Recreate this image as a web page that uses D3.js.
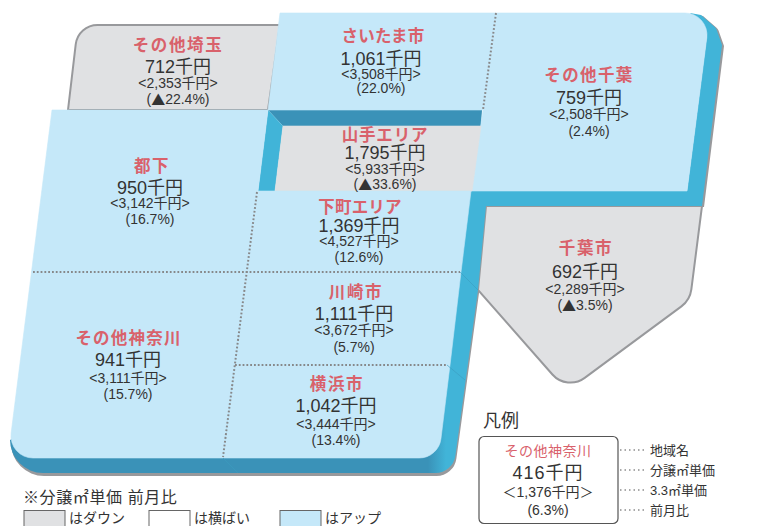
<!DOCTYPE html>
<html>
<head>
<meta charset="utf-8">
<script src="https://cdn.jsdelivr.net/npm/d3@7/dist/d3.min.js"></script>
<style>
  body { margin: 0; background: #fff; }
  svg { display: block; }
  text { font-family: "Liberation Sans", "Noto Sans CJK JP", sans-serif; fill: #333; text-anchor: middle; dominant-baseline: central; }
</style>
</head>
<body>
<script>
// data
var areas   = ["その他埼玉", "さいたま市", "その他千葉", "山手エリア", "都下", "下町エリア", "川崎市", "その他神奈川", "横浜市", "千葉市"];
var prices  = [712, 1061, 759, 1795, 950, 1369, 1111, 941, 1042, 692];
var tsubo   = [2353, 3508, 2508, 5933, 3142, 4527, 3672, 3111, 3444, 2289];
var changes = [-22.4, 22.0, 2.4, -33.6, 16.7, 12.6, 5.7, 15.7, 13.4, -3.5];

var legendNames  = ["はダウン", "は横ばい", "はアップ"];
var legendSample = {name: "その他神奈川", price: 416, tsubo: 1376, change: 6.3};
var legendNotes  = ["地域名", "分譲㎡単価", "3.3㎡単価", "前月比"];

// map layout (hand drawn cartogram, [x, y, cornerRadius])
// tx / ls = title centre and letter spacing, they differ a bit from cell to cell
var cells = {
  "その他埼玉":   {pts: [[280,25],[78,25,22],[68,110],[268,110]], x: 178, tx: 178, ls: 1.6, rows: [45,67,83,99]},
  "さいたま市":   {pts: [[280,13],[497,13],[483,110],[268,110]], x: 381, tx: 383, ls: 0.2, rows: [36,59,74,88]},
  "その他千葉":   {pts: [[497,13],[710,13,22],[687,191],[471,191],[483,110]], x: 589, tx: 589, ls: 1.4, rows: [75,98,114,131]},
  "山手エリア":   {pts: [[283,126],[481,126],[472,191],[275,191]], x: 385, tx: 385, ls: 0.8, rows: [135,153,169,184]},
  "都下":         {pts: [[52,110],[268,110],[258,191],[247,272],[31.5,272]], x: 150, tx: 152, ls: 1.6, rows: [166,188,203,219]},
  "下町エリア":   {pts: [[258,191],[471,191],[461,272],[247,272]], x: 359, tx: 360, ls: 0.2, rows: [207,226,241,257]},
  "川崎市":       {pts: [[247,272],[461,272],[450,365],[235,365]], x: 354, tx: 356, ls: 1.6, rows: [292,314,330,347]},
  "その他神奈川": {pts: [[31.5,272],[247,272],[223,458],[8,458,22]], x: 128, tx: 128.5, ls: 1.2, rows: [338,360,378,394]},
  "横浜市":       {pts: [[235,365],[450,365],[438.6,458,22],[223,458]], x: 336, tx: 337, ls: 1.6, rows: [384,406,424,440]},
  "千葉市":       {pts: [[486,206],[702,206],[690,300,25],[567,391,24],[478,290]], x: 585, tx: 586, ls: 1.6, rows: [248,272,289,305]}
};

var upColor = "#c5e8f9", downColor = "#e0e1e3", edgeColor = "#98999c", sideColor = "#41b4d8", darkSide = "#3a92b8", red = "#d9616b";

var statusColor = d3.scaleThreshold().domain([0]).range([downColor, upColor]);

var yen = d3.format(",");
var pct = d3.format(".1f");
var fmtPrice = function(v){ return yen(v) + "千円"; };
var fmtTsubo = function(v){ return "<" + yen(v) + "千円>"; };

// the triangle has to come from the CJK font, the latin one draws it too small
var addChange = function(sel, v){
  sel.append("tspan").text("(");
  if (v < 0) sel.append("tspan").style("font-family", "'Noto Sans CJK JP'").text("▲");
  sel.append("tspan").text(pct(Math.abs(v)) + "%)");
};

// rounded polygon through d3.path
var outline = function(pts){
  var p = d3.path(), n = pts.length;
  var start = [(pts[n - 1][0] + pts[0][0]) / 2, (pts[n - 1][1] + pts[0][1]) / 2];
  p.moveTo(start[0], start[1]);
  pts.forEach(function(d, i){
    var next = pts[(i + 1) % n];
    if (d[2]) p.arcTo(d[0], d[1], next[0], next[1], d[2]);
    else p.lineTo(d[0], d[1]);
  });
  p.closePath();
  return p.toString();
};

var svg = d3.select("body").append("svg").attr("width", 770).attr("height", 526);

var grad = svg.append("defs").append("linearGradient")
  .attr("id", "sideGrad").attr("gradientUnits", "userSpaceOnUse")
  .attr("x1", 428).attr("x2", 446).attr("y1", 0).attr("y2", 0);
grad.append("stop").attr("offset", 0).attr("stop-color", darkSide);
grad.append("stop").attr("offset", 1).attr("stop-color", sideColor);

// side walls
var frontSide = [[10,440],[10,473,33],[453,473,20],[478,290],[486,206],[487,191],[471,191]];
var rightSide = [[690,13],[701,15],[716,28,6],[722,45],[702,206],[486,206],[471,191],[687,191],[707,35]];

svg.append("path").attr("d", outline(frontSide)).attr("fill", edgeColor).attr("transform", "translate(1,3)");
svg.append("path").attr("d", outline(rightSide)).attr("fill", edgeColor).attr("transform", "translate(2,1)");

var drawCell = function(name){
  var i = areas.indexOf(name), down = changes[i] < 0;
  svg.append("path")
    .attr("d", outline(cells[name].pts))
    .attr("fill", statusColor(changes[i]))
    .attr("stroke", down ? edgeColor : statusColor(changes[i]))
    .attr("stroke-width", down ? 2 : 0.6);
};

drawCell("その他埼玉");
drawCell("千葉市");

svg.append("path").attr("d", outline(frontSide)).attr("fill", "url(#sideGrad)");
svg.append("path").attr("d", outline(rightSide)).attr("fill", sideColor);

// courtyard
svg.append("path").attr("d", outline([[268,110],[482,110],[481,126],[283,126]])).attr("fill", darkSide);
svg.append("path").attr("d", outline([[268,110],[283,126],[275,191],[258,191]])).attr("fill", sideColor);

areas.forEach(function(name){
  if (name != "その他埼玉" && name != "千葉市") {
    var i = areas.indexOf(name);
    svg.append("path")
      .attr("d", outline(cells[name].pts))
      .attr("fill", statusColor(changes[i]))
      .attr("stroke", statusColor(changes[i]))
      .attr("stroke-width", 0.6);
  }
});

// folds on the walls
[[223,458,238,473],[447,365,465,380],[460,272,478,290]].forEach(function(d){
  svg.append("line").attr("x1", d[0]).attr("y1", d[1]).attr("x2", d[2]).attr("y2", d[3])
    .attr("stroke", "#3a9cc0").attr("stroke-width", 0.6);
});

// dotted borders
[[496,13,483,110],[257,192,223,457],[33,272,460,272],[235,365,447,365]].forEach(function(d){
  svg.append("line").attr("x1", d[0]).attr("y1", d[1]).attr("x2", d[2]).attr("y2", d[3])
    .attr("stroke", "#87888a").attr("stroke-width", 2).attr("stroke-dasharray", "1.8 2");
});

// labels
areas.forEach(function(name, i){
  var c = cells[name];
  var g = svg.append("g");
  g.append("text").attr("x", c.tx).attr("y", c.rows[0]).text(name)
    .style("fill", red).style("font-weight", "bold").style("font-size", "16.5px").style("letter-spacing", c.ls + "px");
  g.append("text").attr("x", c.x).attr("y", c.rows[1]).text(fmtPrice(prices[i])).style("font-size", "18px");
  g.append("text").attr("x", c.x).attr("y", c.rows[2]).text(fmtTsubo(tsubo[i])).style("font-size", "14px");
  g.append("text").attr("x", c.x).attr("y", c.rows[3]).style("font-size", "14px").call(addChange, changes[i]);
});

// status legend
svg.append("text").attr("x", 23).attr("y", 497).text("※分譲㎡単価 前月比")
  .style("text-anchor", "start").style("font-size", "16px").style("letter-spacing", "0.6px");

var swatchX = d3.scaleOrdinal().domain(legendNames).range([24, 149, 280]);
var swatchFill = d3.scaleOrdinal().domain(legendNames).range([downColor, "#fff", upColor]);
legendNames.forEach(function(d){
  svg.append("rect").attr("x", swatchX(d)).attr("y", 510.5).attr("width", 41).attr("height", 16)
    .attr("fill", swatchFill(d)).attr("stroke", "#666").attr("stroke-width", 1);
  svg.append("text").attr("x", swatchX(d) + 45).attr("y", 518).text(d)
    .style("text-anchor", "start").style("font-size", "14px");
});

// sample box
svg.append("text").attr("x", 483).attr("y", 421).text("凡例")
  .style("text-anchor", "start").style("font-size", "18px");
svg.append("rect").attr("x", 479).attr("y", 436.5).attr("width", 139).attr("height", 87).attr("rx", 5)
  .attr("fill", "#fff").attr("stroke", "#555").attr("stroke-width", 1.2);

svg.append("text").attr("x", 548).attr("y", 451).text(legendSample.name)
  .style("fill", red).style("font-size", "14px").style("letter-spacing", "0.5px");
svg.append("text").attr("x", 548).attr("y", 473).text(fmtPrice(legendSample.price))
  .style("font-size", "18px").style("letter-spacing", "1px");
svg.append("text").attr("x", 548).attr("y", 492).text("＜" + yen(legendSample.tsubo) + "千円＞")
  .style("font-size", "14px");
svg.append("text").attr("x", 548).attr("y", 510).style("font-size", "14px").call(addChange, legendSample.change);

var noteY = d3.scalePoint().domain(legendNotes).range([450, 510]);
legendNotes.forEach(function(d){
  svg.append("line").attr("x1", 620).attr("x2", 645).attr("y1", noteY(d)).attr("y2", noteY(d))
    .attr("stroke", "#555").attr("stroke-width", 1.2).attr("stroke-dasharray", "1.5 3");
  svg.append("text").attr("x", 650).attr("y", noteY(d)).text(d)
    .style("text-anchor", "start").style("font-size", "13px");
});
</script>
</body>
</html>
